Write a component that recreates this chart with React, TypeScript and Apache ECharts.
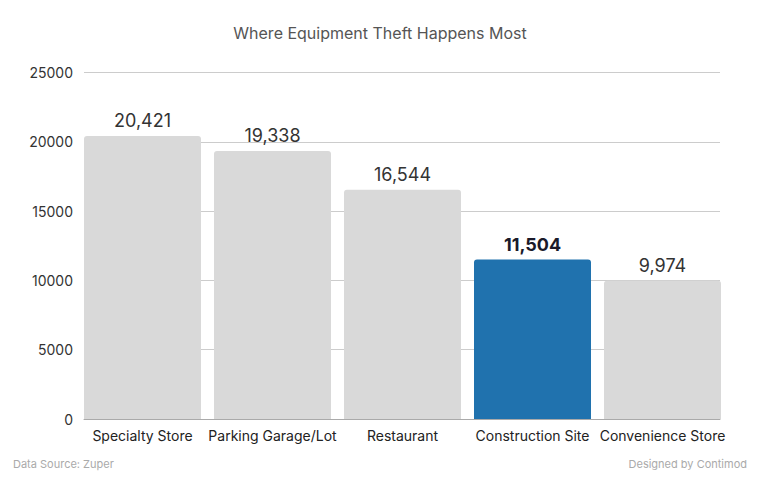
import React, { useEffect, useRef } from "react";
import * as echarts from "echarts";

const categories = ["Specialty Store", "Parking Garage/Lot", "Restaurant", "Construction Site", "Convenience Store"];
const values = [20421, 19338, 16544, 11504, 9974];
const highlightIndex = 3;
const yTicks = [0, 5000, 10000, 15000, 20000, 25000];

const FONT = "Inter, 'Noto Sans', sans-serif";

export default function App() {
  const ref = useRef<HTMLDivElement>(null);
  useEffect(() => {
    if (!ref.current) return;
    const chart = echarts.init(ref.current, null, { renderer: "svg" });
    const top = 72.5;
    const bottom = 61;
    chart.setOption({
      animation: false,
      backgroundColor: "#ffffff",
      title: {
        text: "Where Equipment Theft Happens Most",
        left: "center",
        top: 20,
        textStyle: { fontFamily: FONT, fontSize: 16, fontWeight: 400, color: "#555555" },
      },
      graphic: [
        { type: "text", left: 13, top: 458, style: { text: "Data Source: Zuper", fontFamily: FONT, fontSize: 11, fill: "#aaaaaa" } },
        { type: "text", right: 13, top: 458, style: { text: "Designed by Contimod", fontFamily: FONT, fontSize: 11, fill: "#aaaaaa" } },
      ],
      grid: [
        { left: 77.5, right: 32.5, top, bottom },
        { left: 84, right: 40, top, bottom },
      ],
      xAxis: [
        {
          type: "category",
          gridIndex: 0,
          data: categories,
          axisLine: { show: false },
          axisTick: { show: false },
          axisLabel: { fontFamily: FONT, fontSize: 14, color: "#222222", margin: 9, interval: 0 },
        },
        {
          type: "category",
          gridIndex: 1,
          data: categories,
          axisLine: { show: true, lineStyle: { color: "#aaaaaa", width: 1 } },
          axisTick: { show: false },
          axisLabel: { show: false },
        },
      ],
      yAxis: [
        {
          type: "value",
          gridIndex: 0,
          min: 0,
          max: 25000,
          interval: 5000,
          axisLine: { show: false },
          axisTick: { show: false },
          axisLabel: { show: false },
          splitLine: { show: false },
        },
        {
          type: "value",
          gridIndex: 1,
          min: yTicks[0],
          max: yTicks[yTicks.length - 1],
          interval: yTicks[1] - yTicks[0],
          axisLine: { show: false },
          axisTick: { show: false },
          axisLabel: { fontFamily: FONT, fontSize: 14, color: "#333333", margin: 11, formatter: (v: number) => String(v) },
          splitLine: { show: true, lineStyle: { color: "#cccccc", width: 1 } },
        },
      ],
      series: [
        {
          type: "bar",
          xAxisIndex: 0,
          yAxisIndex: 0,
          barWidth: 117,
          data: values.map((v, i) => ({
            value: v,
            itemStyle: {
              color: i === highlightIndex ? "#2072ae" : "#d9d9d9",
              borderRadius: [3, 3, 0, 0],
            },
            label: {
              show: true,
              position: "top",
              distance: 6,
              formatter: (p: any) => Number(p.value).toLocaleString("en-US"),
              fontFamily: FONT,
              fontSize: 18,
              fontWeight: i === highlightIndex ? 700 : 400,
              color: i === highlightIndex ? "#1a1a2a" : "#333333",
            },
          })),
        },
      ],
    });
    return () => chart.dispose();
  }, []);
  return <div ref={ref} style={{ width: 760, height: 480, position: "absolute", left: 0, top: 0 }} />;
}
